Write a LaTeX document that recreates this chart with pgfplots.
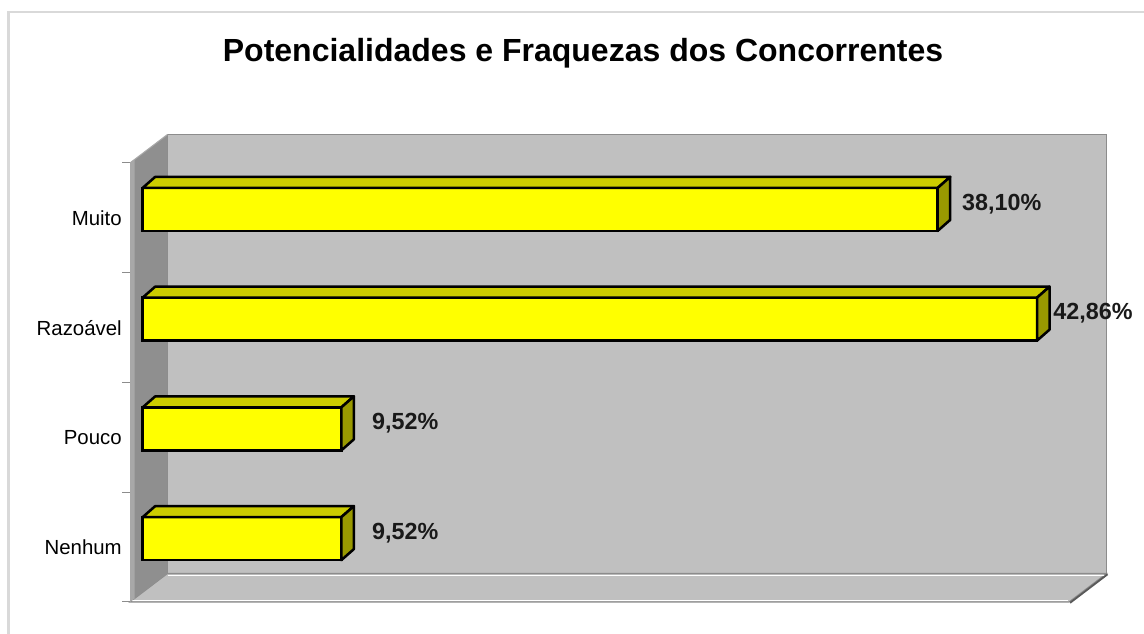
\documentclass[border=0pt]{standalone}
\usepackage{pgfplots}
\pgfplotsset{compat=1.18}
\usepackage{pgfplotstable}
\usepackage{fontspec}
\setmainfont{Liberation Sans}
\definecolor{wallback}{HTML}{C0C0C0}
\definecolor{wallleft}{HTML}{8F8F8F}
\definecolor{wallleftlight}{HTML}{A8A8A8}
\definecolor{floorc}{HTML}{C0C0C0}
\definecolor{edgec}{HTML}{8C8C8C}
\definecolor{baryellow}{HTML}{FFFF00}
\definecolor{bartop}{HTML}{CCCC00}
\definecolor{barside}{HTML}{999900}
\definecolor{framec}{HTML}{D9D9D9}
\pgfdeclareplotmark{nothing}{}
\pgfplotstableread{
cat val off
0 9.52 57.5
1 9.52 57.5
2 42.86 51.5
3 38.10 57.5
}\datatable
\begin{document}
\begin{tikzpicture}
\useasboundingbox (0,0) rectangle (858pt,475.5pt);
\fill[white] (0,0) rectangle (858pt,475.5pt);
\draw[framec, line width=1.9pt] (6.4pt,-2pt) -- (6.4pt,466.5pt) -- (862pt,466.5pt);
\begin{axis}[
  at={(97.5pt,24pt)}, anchor=south west,
  scale only axis, width=704.25pt, height=329.25pt,
  xmin=0, xmax=45, ymin=-0.5, ymax=3.5,
  clip=false,
  axis line style={draw=none},
  xtick=\empty,
  ytick={-0.5,0.5,1.5,2.5,3.5},
  yticklabels={},
  ytick pos=left,
  tick align=outside,
  major tick length=6pt,
  tick style={edgec, line width=0.75pt},
  extra y ticks={0,1,2,3},
  extra y tick labels={Nenhum,Pouco,Razoável,Muito},
  extra y tick style={major tick length=0pt},
  yticklabel style={font=\fontsize{15.3}{18}\selectfont, inner sep=0pt, xshift=-6pt},
]
% back wall
\filldraw[fill=wallback, draw=edgec, line width=0.8pt]
  ([shift={(28.125pt,21.375pt)}]axis cs:0,-0.5) rectangle ([shift={(28.125pt,21.375pt)}]axis cs:45,3.5);
% floor
\filldraw[fill=floorc, draw=edgec, line width=0.8pt]
  (axis cs:0,-0.5) -- (axis cs:45,-0.5) -- ([shift={(28.125pt,21.375pt)}]axis cs:45,-0.5) -- ([shift={(28.125pt,21.375pt)}]axis cs:0,-0.5) -- cycle;
\draw[white, line width=0.8pt] ([shift={(28.125pt,19.8pt)}]axis cs:0,-0.5) -- ([shift={(28.125pt,19.8pt)}]axis cs:45,-0.5);
\draw[white, line width=0.6pt] ([shift={(0pt,1.2pt)}]axis cs:0,-0.5) -- ([shift={(-1pt,1.2pt)}]axis cs:45,-0.5);
\draw[black!65, line width=1.4pt] ([shift={(0.8pt,-0.6pt)}]axis cs:45,-0.5) -- ([shift={(28.9pt,20.8pt)}]axis cs:45,-0.5);
% left wall
\fill[wallleft] (axis cs:0,-0.5) -- (axis cs:0,3.5) -- ([shift={(28.125pt,21.375pt)}]axis cs:0,3.5) -- ([shift={(28.125pt,21.375pt)}]axis cs:0,-0.5) -- cycle;
\fill[wallleftlight] (axis cs:0,-0.5) -- (axis cs:0,3.5) -- ([shift={(3.5pt,2.66pt)}]axis cs:0,3.5) -- ([shift={(3.5pt,2.66pt)}]axis cs:0,-0.5) -- cycle;
\draw[wallleftlight, line width=0.8pt] (axis cs:0,3.5) -- ([shift={(28.125pt,21.375pt)}]axis cs:0,3.5);

% bar top and side faces
\addplot[scatter, only marks, mark=nothing,
  visualization depends on={\thisrow{val} \as \barval},
  scatter/@pre marker code/.code={%
    \pgfmathsetmacro\barlen{\barval*15.65}%
    \filldraw[fill=bartop, draw=black, line width=1.9pt, line join=round]
      (9.525pt-\barlen pt,22.5pt) -- (18.9pt-\barlen pt,30.75pt) -- (18.9pt,30.75pt) -- (9.525pt,22.5pt) -- cycle;
    \filldraw[fill=barside, draw=black, line width=1.9pt, line join=round]
      (9.525pt,-9.75pt) -- (18.9pt,-1.5pt) -- (18.9pt,30.75pt) -- (9.525pt,22.5pt) -- cycle;
  },
  scatter/@post marker code/.code={}
] table[x=val,y=cat] {\datatable};

% bar front faces
\addplot[xbar, fill=baryellow, draw=black, line width=1.9pt, bar width=32.25pt,
  xshift=9.525pt, yshift=6.375pt] table[x=val,y=cat] {\datatable};

% value labels
\addplot[only marks, mark=nothing, point meta=x,
  visualization depends on={\thisrow{off} \as \laboff},
  nodes near coords={\pgfmathprintnumber[fixed,fixed zerofill,precision=2,use comma,assume math mode=true]{\pgfplotspointmeta}\%},
  nodes near coords style={anchor=center, xshift=\laboff pt, yshift=10.5pt,
    font=\bfseries\fontsize{17.5}{20}\selectfont, text=black!90},
] table[x=val,y=cat] {\datatable};
\end{axis}
\node[anchor=base, font=\bfseries\fontsize{24}{28}\selectfont] at (437.25pt,429pt)
  {Potencialidades e Fraquezas dos Concorrentes};
\end{tikzpicture}
\end{document}
